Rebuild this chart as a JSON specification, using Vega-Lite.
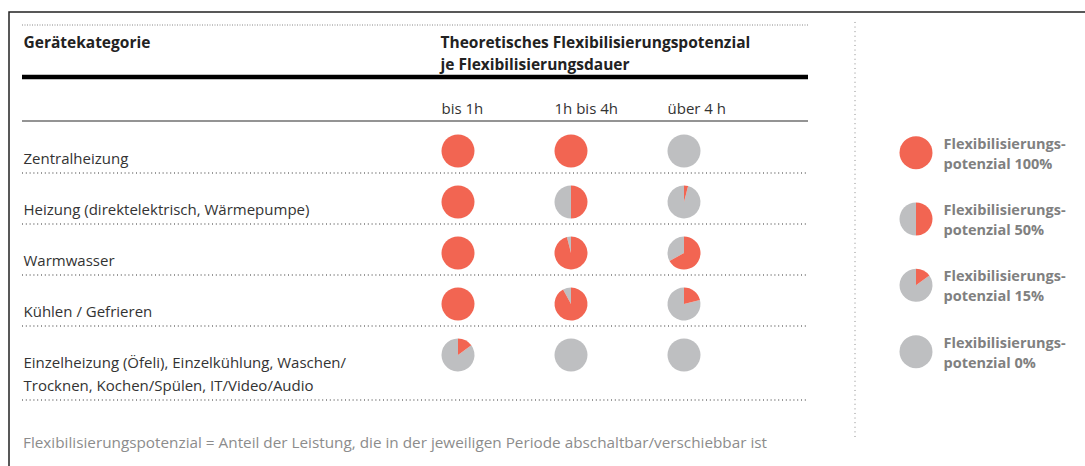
{
  "$schema": "https://vega.github.io/schema/vega-lite/v6.json",
  "width": 1076,
  "height": 454,
  "autosize": {"type": "none"},
  "padding": {"left": 9, "top": 12, "right": 0, "bottom": 0},
  "background": "white",
  "config": {
    "view": {"stroke": "#222", "strokeWidth": 1.5, "strokeDash": [1076, 1530, 454, 100]},
    "font": "Open Sans",
    "axis": {"labelFont": "Open Sans", "titleFont": "Open Sans"}
  },
  "datasets": {
    "potenzial": [
      {"Kategorie": "Zentralheizung", "Dauer": "bis 1h", "Anteil": 100},
      {"Kategorie": "Zentralheizung", "Dauer": "1h bis 4h", "Anteil": 100},
      {"Kategorie": "Zentralheizung", "Dauer": "über 4 h", "Anteil": 0},
      {"Kategorie": "Heizung (direktelektrisch, Wärmepumpe)", "Dauer": "bis 1h", "Anteil": 100},
      {"Kategorie": "Heizung (direktelektrisch, Wärmepumpe)", "Dauer": "1h bis 4h", "Anteil": 50},
      {"Kategorie": "Heizung (direktelektrisch, Wärmepumpe)", "Dauer": "über 4 h", "Anteil": 4},
      {"Kategorie": "Warmwasser", "Dauer": "bis 1h", "Anteil": 100},
      {"Kategorie": "Warmwasser", "Dauer": "1h bis 4h", "Anteil": 96},
      {"Kategorie": "Warmwasser", "Dauer": "über 4 h", "Anteil": 67},
      {"Kategorie": "Kühlen / Gefrieren", "Dauer": "bis 1h", "Anteil": 100},
      {"Kategorie": "Kühlen / Gefrieren", "Dauer": "1h bis 4h", "Anteil": 92},
      {"Kategorie": "Kühlen / Gefrieren", "Dauer": "über 4 h", "Anteil": 21},
      {"Kategorie": "Einzelheizung (Öfeli), Einzelkühlung, Waschen/Trocknen, Kochen/Spülen, IT/Video/Audio", "Dauer": "bis 1h", "Anteil": 15},
      {"Kategorie": "Einzelheizung (Öfeli), Einzelkühlung, Waschen/Trocknen, Kochen/Spülen, IT/Video/Audio", "Dauer": "1h bis 4h", "Anteil": 0},
      {"Kategorie": "Einzelheizung (Öfeli), Einzelkühlung, Waschen/Trocknen, Kochen/Spülen, IT/Video/Audio", "Dauer": "über 4 h", "Anteil": 0}
    ],
    "legende": [
      {"Legende": "Flexibilisierungspotenzial 100%", "Anteil": 100},
      {"Legende": "Flexibilisierungspotenzial 50%", "Anteil": 50},
      {"Legende": "Flexibilisierungspotenzial 15%", "Anteil": 15},
      {"Legende": "Flexibilisierungspotenzial 0%", "Anteil": 0}
    ]
  },
  "title": {
    "text": "Flexibilisierungspotenzial = Anteil der Leistung, die in der jeweiligen Periode abschaltbar/verschiebbar ist",
    "orient": "top",
    "anchor": "start",
    "frame": "group",
    "offset": 0,
    "dx": 14,
    "dy": 451,
    "baseline": "alphabetic",
    "font": "Open Sans",
    "fontSize": 15.3,
    "fontWeight": "normal",
    "color": "#8c8c8c"
  },
  "layer": [
    {
      "data": {"name": "potenzial"},
      "layer": [
        {
          "transform": [{"filter": "datum.Anteil < 100"}],
          "mark": {"type": "arc", "outerRadius": 16.5, "color": "#BEBFC1"},
          "encoding": {
            "x": {
              "field": "Dauer", "type": "nominal",
              "scale": {"type": "point", "domain": ["bis 1h", "1h bis 4h", "über 4 h"], "range": [449, 675], "padding": 0},
              "axis": {
                "orient": "top", "offset": 0,
                "domain": false, "ticks": false, "tickSize": 0, "grid": false,
                "labelAngle": 0, "labelAlign": "left", "labelBaseline": "alphabetic",
                "labelPadding": -101, "labelOffset": -17,
                "labelFontSize": 15, "labelColor": "#333", "labelOverlap": false, "labelBound": false, "labelFlush": false,
                "title": ["Theoretisches Flexibilisierungspotenzial", "je Flexibilisierungsdauer"],
                "titleX": 431, "titleY": 23, "titleAlign": "left", "titleBaseline": "top", "titleAngle": 0,
                "titleFontSize": 15.5, "titleFontWeight": "bold", "titleColor": "#222", "titleLineHeight": 22
              }
            },
            "y": {
              "field": "Kategorie", "type": "nominal", "bandPosition": 0.5,
              "scale": {
                "type": "band",
                "domain": ["Zentralheizung", "Heizung (direktelektrisch, Wärmepumpe)", "Warmwasser", "Kühlen / Gefrieren", "Einzelheizung (Öfeli), Einzelkühlung, Waschen/Trocknen, Kochen/Spülen, IT/Video/Audio"],
                "range": [113.5, 368.5], "paddingInner": 0, "paddingOuter": 0
              },
              "axis": {
                "orient": "left", "offset": 0,
                "domain": false, "ticks": false, "tickSize": 0, "grid": false,
                "labelAlign": "left", "labelBaseline": "top", "labelPadding": -14, "labelOffset": 1,
                "labelFontSize": 15, "labelColor": "#333", "labelLimit": 0, "labelLineHeight": 23,
                "labelOverlap": false, "labelBound": false, "labelFlush": false,
                "labelExpr": "indexof(datum.label, 'Waschen/') >= 0 ? [slice(datum.label, 0, indexof(datum.label, 'Waschen/') + 8), slice(datum.label, indexof(datum.label, 'Waschen/') + 8)] : datum.label",
                "title": "Gerätekategorie",
                "titleX": 14, "titleY": 35, "titleAngle": 0, "titleAlign": "left", "titleBaseline": "alphabetic",
                "titleFontSize": 15.5, "titleFontWeight": "bold", "titleColor": "#222"
              }
            },
            "theta": {"field": "Anteil", "type": "quantitative", "stack": null, "scale": {"domain": [0, 100], "range": [0, 6.283185307179586]}},
            "theta2": {"datum": 100}
          }
        },
        {
          "transform": [{"filter": "datum.Anteil > 0"}],
          "mark": {"type": "arc", "outerRadius": 16.5, "color": "#F26552"},
          "encoding": {
            "x": {"field": "Dauer", "type": "nominal"},
            "y": {"field": "Kategorie", "type": "nominal", "bandPosition": 0.5},
            "theta": {"field": "Anteil", "type": "quantitative", "stack": null},
            "theta2": {"datum": 0}
          }
        },
        {
          "transform": [{"filter": "datum.Dauer === 'bis 1h' && indexof(datum.Kategorie, 'Einzelheizung') < 0"}],
          "mark": {"type": "rule", "xOffset": -436, "x2Offset": 124, "yOffset": 22, "strokeDash": [1, 2.8], "color": "#333", "strokeWidth": 1.1},
          "encoding": {
            "x": {"datum": "bis 1h", "type": "nominal"},
            "x2": {"datum": "über 4 h"},
            "y": {"field": "Kategorie", "type": "nominal", "bandPosition": 0.5}
          }
        },
        {
          "transform": [{"filter": "datum.Dauer === 'bis 1h' && indexof(datum.Kategorie, 'Einzelheizung') >= 0"}],
          "mark": {"type": "rule", "xOffset": -436, "x2Offset": 124, "yOffset": 45, "strokeDash": [1, 2.8], "color": "#333", "strokeWidth": 1.1},
          "encoding": {
            "x": {"datum": "bis 1h", "type": "nominal"},
            "x2": {"datum": "über 4 h"},
            "y": {"field": "Kategorie", "type": "nominal", "bandPosition": 0.5}
          }
        },
        {
          "transform": [{"filter": "datum.Dauer === 'bis 1h' && datum.Kategorie === 'Zentralheizung'"}],
          "mark": {"type": "rule", "xOffset": -436, "x2Offset": 124, "yOffset": -30, "color": "#707070", "strokeWidth": 1.6},
          "encoding": {
            "x": {"datum": "bis 1h", "type": "nominal"},
            "x2": {"datum": "über 4 h"},
            "y": {"field": "Kategorie", "type": "nominal", "bandPosition": 0.5}
          }
        },
        {
          "transform": [{"filter": "datum.Dauer === 'bis 1h' && datum.Kategorie === 'Zentralheizung'"}],
          "mark": {"type": "rule", "xOffset": -436, "x2Offset": 124, "yOffset": -74, "color": "#000", "strokeWidth": 4.5},
          "encoding": {
            "x": {"datum": "bis 1h", "type": "nominal"},
            "x2": {"datum": "über 4 h"},
            "y": {"field": "Kategorie", "type": "nominal", "bandPosition": 0.5}
          }
        },
        {
          "transform": [{"filter": "datum.Dauer === 'bis 1h' && datum.Kategorie === 'Zentralheizung'"}],
          "mark": {"type": "rule", "xOffset": -436, "x2Offset": 124, "yOffset": -126, "strokeDash": [1, 1.5], "color": "#888", "strokeWidth": 1},
          "encoding": {
            "x": {"datum": "bis 1h", "type": "nominal"},
            "x2": {"datum": "über 4 h"},
            "y": {"field": "Kategorie", "type": "nominal", "bandPosition": 0.5}
          }
        }
      ]
    },
    {
      "data": {"name": "legende"},
      "layer": [
        {
          "transform": [{"filter": "datum.Anteil < 100"}],
          "mark": {"type": "arc", "outerRadius": 16.5, "color": "#BEBFC1"},
          "encoding": {
            "x": {
              "field": "Legende", "type": "nominal",
              "scale": {"type": "point", "domain": ["Flexibilisierungspotenzial 100%", "Flexibilisierungspotenzial 50%", "Flexibilisierungspotenzial 15%", "Flexibilisierungspotenzial 0%"], "range": [907, 907]},
              "axis": null
            },
            "y": {
              "field": "Legende", "type": "nominal", "bandPosition": 0.5,
              "scale": {
                "type": "band",
                "domain": ["Flexibilisierungspotenzial 100%", "Flexibilisierungspotenzial 50%", "Flexibilisierungspotenzial 15%", "Flexibilisierungspotenzial 0%"],
                "range": [107.5, 372.8], "paddingInner": 0, "paddingOuter": 0
              },
              "axis": {
                "orient": "right", "offset": 0,
                "domain": false, "ticks": false, "tickSize": 0, "grid": false,
                "labelAlign": "left", "labelBaseline": "middle", "labelPadding": -142, "labelOffset": -8,
                "labelFontSize": 14.5, "labelFontWeight": "bold", "labelColor": "#808080", "labelLimit": 0, "labelLineHeight": 20,
                "labelOverlap": false, "labelBound": false, "labelFlush": false,
                "labelExpr": "['Flexibilisierungs-', replace(datum.label, 'Flexibilisierungs', '')]",
                "title": null
              }
            },
            "theta": {"field": "Anteil", "type": "quantitative", "stack": null, "scale": {"domain": [0, 100], "range": [0, 6.283185307179586]}},
            "theta2": {"datum": 100}
          }
        },
        {
          "transform": [{"filter": "datum.Anteil > 0"}],
          "mark": {"type": "arc", "outerRadius": 16.5, "color": "#F26552"},
          "encoding": {
            "x": {"field": "Legende", "type": "nominal", "axis": null},
            "y": {"field": "Legende", "type": "nominal", "bandPosition": 0.5},
            "theta": {"field": "Anteil", "type": "quantitative", "stack": null},
            "theta2": {"datum": 0}
          }
        },
        {
          "transform": [{"filter": "datum.Anteil === 100"}],
          "mark": {"type": "rule", "xOffset": -61, "yOffset": -130.7, "y2Offset": 86.3, "strokeDash": [1, 3.6], "color": "#8a8a8a", "strokeWidth": 1},
          "encoding": {
            "x": {"field": "Legende", "type": "nominal", "axis": null},
            "y": {"datum": "Flexibilisierungspotenzial 100%", "type": "nominal", "bandPosition": 0.5},
            "y2": {"datum": "Flexibilisierungspotenzial 0%", "bandPosition": 0.5}
          }
        }
      ]
    }
  ],
  "resolve": {"scale": {"x": "independent", "y": "independent", "theta": "independent"}}
}
